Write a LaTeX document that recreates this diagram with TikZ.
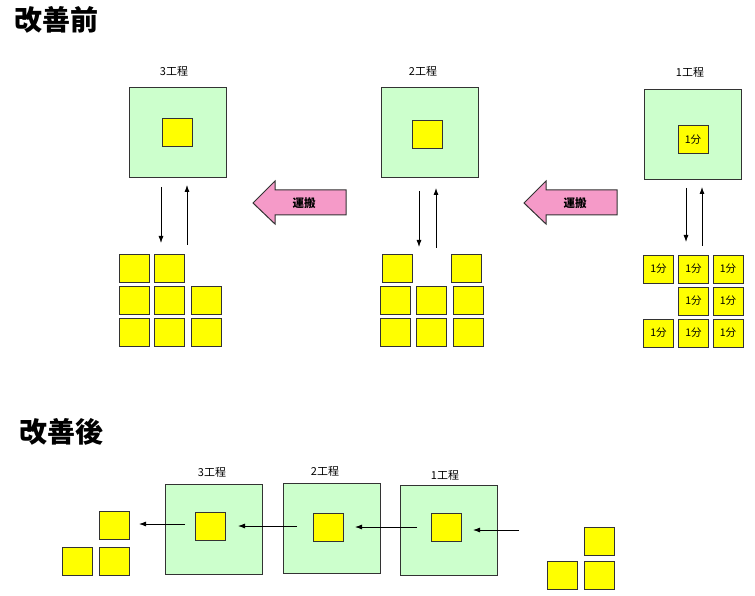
\documentclass[tikz,border=0pt]{standalone}
\usepackage{fontspec}
\newfontfamily\cjk{Noto Sans CJK JP}
\usetikzlibrary{arrows.meta}
\definecolor{lgreen}{HTML}{CCFFCC}
\definecolor{ylw}{HTML}{FFFF00}
\definecolor{pinkf}{HTML}{F59AC8}
\definecolor{edge}{HTML}{333333}
\begin{document}
\begin{tikzpicture}[x=1pt,y=-1pt,
 proc/.style={draw=edge, line width=1pt, fill=lgreen, minimum width=97, minimum height=90, inner sep=0},
 part/.style={draw=edge, line width=1pt, fill=ylw, minimum width=30, minimum height=28, inner sep=0, font=\cjk\fontsize{10.5}{10.5}\selectfont},
 lbl/.style={font=\cjk\fontsize{11}{11}\selectfont, inner sep=0},
 ttl/.style={font=\cjk\bfseries\fontsize{28}{28}\selectfont, anchor=west, inner sep=0},
 arr/.style={-{Latex[length=7pt,width=5pt]}, line width=0.8pt},
 carry/.style={draw=edge, fill=pinkf, line width=1pt},
 carrytxt/.style={font=\cjk\bfseries\fontsize{11.5}{11.5}\selectfont, inner sep=0}
]
\useasboundingbox (0,0) rectangle (755,596);
\fill[white] (0,0) rectangle (755,596);

% ---------- before ----------
\node[ttl] (tb) at (14,20) {改善前};

% process 3
\node[lbl] (l3) at (174,71) {3工程};
\node[proc] (p3) at (177.5,133) {};
\node[part] (p3in) at (177,132.5) {};
\coordinate (d3a) at (161,187); \coordinate (d3b) at (161,243);
\coordinate (u3a) at (187,245); \coordinate (u3b) at (187,185);
\draw[arr] (d3a) -- (d3b);
\draw[arr] (u3a) -- (u3b);
\node[part] (a11) at (134,268.5) {};
\node[part] (a12) at (169,268.5) {};
\node[part] (a21) at (134,300) {};
\node[part] (a22) at (169,300) {};
\node[part] (a23) at (206,300) {};
\node[part] (a31) at (134,332.5) {};
\node[part] (a32) at (169,332.5) {};
\node[part] (a33) at (206,332.5) {};

% carry arrow 1
\draw[carry] (253,203) -- (275,181) -- (275,190) -- (346,190) -- (346,215) -- (275,215) -- (275,224) -- cycle;
\node[carrytxt] (c1) at (304,203) {運搬};

% process 2
\node[lbl] (l2) at (423,71) {2工程};
\node[proc] (p2) at (429.5,133) {};
\node[part] (p2in) at (427.5,134.5) {};
\coordinate (d2a) at (419,191); \coordinate (d2b) at (419,247);
\coordinate (u2a) at (436,248); \coordinate (u2b) at (436,188);
\draw[arr] (d2a) -- (d2b);
\draw[arr] (u2a) -- (u2b);
\node[part] (b11) at (397,268.5) {};
\node[part] (b13) at (466.5,268.5) {};
\node[part] (b21) at (395.5,300) {};
\node[part] (b22) at (431.5,300) {};
\node[part] (b23) at (468,300) {};
\node[part] (b31) at (395.5,332.5) {};
\node[part] (b32) at (431.5,332.5) {};
\node[part] (b33) at (468,332.5) {};

% carry arrow 2
\draw[carry] (524,203) -- (546,181) -- (546,190) -- (617,190) -- (617,215) -- (546,215) -- (546,224) -- cycle;
\node[carrytxt] (c2) at (575,203) {運搬};

% process 1
\node[lbl] (l1) at (690,72) {1工程};
\node[proc] (p1) at (692.5,134.5) {};
\node[part] (p1in) at (693,139.5) {1分};
\coordinate (d1a) at (686,188); \coordinate (d1b) at (686,242);
\coordinate (u1a) at (702,246); \coordinate (u1b) at (702,187);
\draw[arr] (d1a) -- (d1b);
\draw[arr] (u1a) -- (u1b);
\node[part] (c11) at (658.5,269) {1分};
\node[part] (c12) at (693.5,269) {1分};
\node[part] (c13) at (728,269) {1分};
\node[part] (c22) at (693.5,301) {1分};
\node[part] (c23) at (728,301) {1分};
\node[part] (c31) at (658.5,333) {1分};
\node[part] (c32) at (693.5,333) {1分};
\node[part] (c33) at (728,333) {1分};

% ---------- after ----------
\node[ttl] (ta) at (19,432) {改善後};

\node[lbl] (m3) at (212,472) {3工程};
\node[lbl] (m2) at (325,471) {2工程};
\node[lbl] (m1) at (445,475) {1工程};

\node[proc] (q3) at (214,529.5) {};
\node[proc] (q2) at (332,528) {};
\node[proc] (q1) at (448.5,530) {};
\node[part] (q3in) at (210.5,526.5) {};
\node[part] (q2in) at (328.5,527.5) {};
\node[part] (q1in) at (446,527.5) {};

\coordinate (s1a) at (519,530); \coordinate (s1b) at (473,530);
\coordinate (s2a) at (417,527); \coordinate (s2b) at (355,527);
\coordinate (s3a) at (297,526); \coordinate (s3b) at (238,526);
\coordinate (s4a) at (185,524); \coordinate (s4b) at (139,524);
\draw[arr] (s1a) -- (s1b);
\draw[arr] (s2a) -- (s2b);
\draw[arr] (s3a) -- (s3b);
\draw[arr] (s4a) -- (s4b);

\node[part] (o1) at (114.5,525) {};
\node[part] (o2) at (77,561) {};
\node[part] (o3) at (114.5,561) {};

\node[part] (i1) at (599,541) {};
\node[part] (i2) at (562,575) {};
\node[part] (i3) at (599,575) {};
\end{tikzpicture}
\end{document}
